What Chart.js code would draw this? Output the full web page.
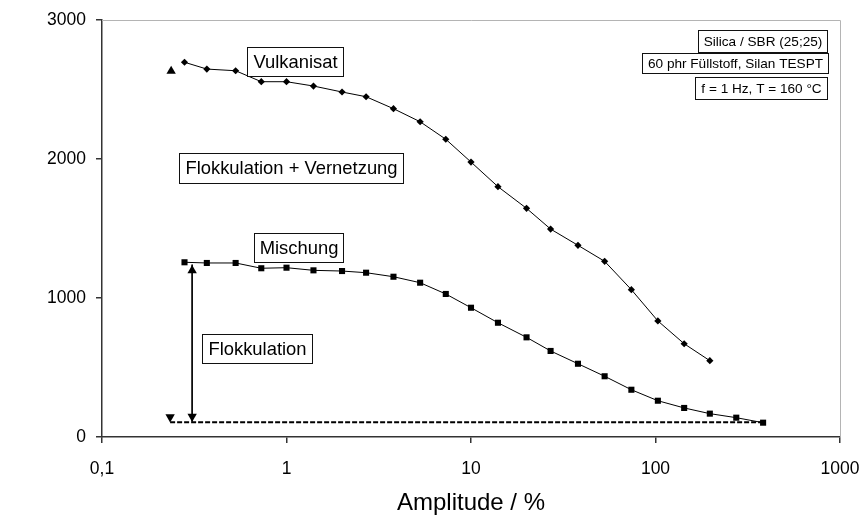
<!DOCTYPE html>
<html>
<head>
<meta charset="utf-8">
<title>Amplitude sweep</title>
<script src="https://cdn.jsdelivr.net/npm/chart.js@4.4.1/dist/chart.umd.min.js"></script>
<style>
  body { margin: 0; background: #fff; }
  #sweepChart { display: block; }
</style>
</head>
<body>
<canvas id="sweepChart" width="865" height="516"></canvas>
<script>
// Amplitude steps in % (log spaced)
var vulkAmp = [0.28, 0.37, 0.53, 0.73, 1.0, 1.4, 2.0, 2.7, 3.8, 5.3, 7.3, 10, 14, 20, 27, 38, 53, 74, 103, 143, 197];
var vulkG = [2696, 2647, 2635, 2556, 2556, 2525, 2482, 2448, 2362, 2268, 2142, 1978, 1801, 1645, 1496, 1379, 1264, 1060, 835, 671, 549];

var mischAmp = [0.28, 0.37, 0.53, 0.73, 1.0, 1.4, 2.0, 2.7, 3.8, 5.3, 7.3, 10, 14, 20, 27, 38, 53, 74, 103, 143, 197, 274, 383];
var mischG = [1257, 1252, 1252, 1214, 1218, 1199, 1194, 1182, 1153, 1110, 1029, 930, 822, 717, 619, 527, 437, 340, 261, 209, 168, 139, 103];

// start markers and the filler baseline
var startUpAmp = [0.237];
var startUpG = [2632];
var startDownAmp = [0.234];
var startDownG = [144];
var baseAmp = [0.234, 383];
var baseG = [106, 106];

// "Flokkulation" arrow
var arrowAmp = [0.308, 0.308];
var arrowG = [1240, 112];
var arrowHeadG = [1198, 147];

var xTicks = [0.1, 1, 10, 100, 1000];
var xTickLabels = ['0,1', '1', '10', '100', '1000'];

function pts(xs, ys) {
    return xs.map(function (x, i) { return { x: x, y: ys[i] }; });
}

// boxed labels, drawn on top of the plot
var boxPlugin = {
    id: 'boxes',
    afterDraw: function (chart) {
        var ctx = chart.ctx;
        var area = chart.chartArea;
        ctx.save();
        // light frame on top and right
        ctx.strokeStyle = '#b4b4b4';
        ctx.lineWidth = 1;
        ctx.beginPath();
        ctx.moveTo(area.left, area.top + 0.5);
        ctx.lineTo(area.right + 0.5, area.top + 0.5);
        ctx.lineTo(area.right + 0.5, area.bottom);
        ctx.stroke();

        var boxes = [
            { t: 'Vulkanisat', x: 247, y: 47, w: 96, h: 29, f: 18.4 },
            { t: 'Flokkulation + Vernetzung', x: 179, y: 153, w: 224, h: 30, f: 18.4 },
            { t: 'Mischung', x: 254, y: 233, w: 89, h: 29, f: 18.4 },
            { t: 'Flokkulation', x: 202, y: 334, w: 110, h: 29, f: 18.4 },
            { t: 'Silica / SBR (25;25)', x: 698, y: 30, w: 129, h: 22, f: 13.6 },
            { t: '60 phr Füllstoff, Silan TESPT', x: 642, y: 53, w: 186, h: 20, f: 13.6 },
            { t: 'f = 1 Hz, T = 160 °C', x: 695, y: 77, w: 132, h: 22, f: 13.6 }
        ];
        boxes.forEach(function (b) {
            ctx.fillStyle = '#fff';
            ctx.fillRect(b.x, b.y, b.w, b.h);
            ctx.strokeStyle = '#111';
            ctx.lineWidth = 1;
            ctx.strokeRect(b.x + 0.5, b.y + 0.5, b.w, b.h);
            ctx.fillStyle = '#000';
            ctx.font = b.f + 'px "Liberation Sans", Arial, sans-serif';
            ctx.textAlign = 'center';
            ctx.textBaseline = 'middle';
            ctx.fillText(b.t, b.x + b.w / 2 + 0.5, b.y + b.h / 2 + 1);
        });
        ctx.restore();
    }
};

var ctx = document.getElementById('sweepChart').getContext('2d');

var sweepChart = new Chart(ctx, {
    type: 'scatter',
    data: {
        datasets: [
            {
                label: 'Basis',
                data: pts(baseAmp, baseG),
                showLine: true,
                borderColor: '#000',
                borderWidth: 2,
                borderDash: [5, 2],
                pointRadius: 0
            },
            {
                label: 'Pfeil',
                data: pts(arrowAmp, arrowG),
                showLine: true,
                borderColor: '#000',
                borderWidth: 1,
                pointRadius: 0
            },
            {
                label: 'Pfeilspitzen',
                data: pts(arrowAmp, arrowHeadG),
                pointStyle: 'triangle',
                rotation: [0, 180],
                pointRadius: 5.4,
                backgroundColor: '#000',
                borderColor: '#000',
                borderWidth: 0
            },
            {
                label: 'Vulkanisat',
                data: pts(vulkAmp, vulkG),
                showLine: true,
                borderColor: '#000',
                borderWidth: 1,
                pointStyle: 'rectRot',
                pointRadius: 3.6,
                pointBackgroundColor: '#000',
                pointBorderColor: '#000',
                pointBorderWidth: 0
            },
            {
                label: 'Mischung',
                data: pts(mischAmp, mischG),
                showLine: true,
                borderColor: '#000',
                borderWidth: 1,
                pointStyle: 'rect',
                pointRadius: 4.3,
                pointBackgroundColor: '#000',
                pointBorderColor: '#000',
                pointBorderWidth: 0
            },
            {
                label: 'Start oben',
                data: pts(startUpAmp, startUpG),
                pointStyle: 'triangle',
                pointRadius: 5.4,
                backgroundColor: '#000',
                borderColor: '#000',
                borderWidth: 0
            },
            {
                label: 'Start unten',
                data: pts(startDownAmp, startDownG),
                pointStyle: 'triangle',
                rotation: 180,
                pointRadius: 5.4,
                backgroundColor: '#000',
                borderColor: '#000',
                borderWidth: 0
            }
        ]
    },
    options: {
        responsive: false,
        animation: false,
        layout: { padding: { left: 0, right: 25, top: 20, bottom: 0 } },
        plugins: {
            legend: { display: false },
            tooltip: { enabled: false }
        },
        scales: {
            x: {
                type: 'logarithmic',
                min: 0.1,
                max: 1000,
                afterBuildTicks: function (scale) {
                    scale.ticks = xTicks.map(function (v) { return { value: v }; });
                },
                afterFit: function (scale) {
                    scale.height = 79;
                    scale.paddingLeft = 0;
                    scale.paddingRight = 0;
                },
                ticks: {
                    autoSkip: false,
                    maxRotation: 0,
                    padding: 16,
                    color: '#000',
                    font: { family: '"Liberation Sans", Arial, sans-serif', size: 17.5 },
                    callback: function (value) {
                        var i = xTicks.indexOf(value);
                        return i >= 0 ? xTickLabels[i] : '';
                    }
                },
                grid: { drawOnChartArea: false, drawTicks: true, tickLength: 6, color: '#333', lineWidth: 1.5 },
                border: { display: true, color: '#333', width: 1.5 },
                title: {
                    display: true,
                    text: 'Amplitude / %',
                    color: '#000',
                    font: { family: '"Liberation Sans", Arial, sans-serif', size: 24 },
                    padding: { top: 0, bottom: -2 }
                }
            },
            y: {
                min: 0,
                max: 3000,
                afterFit: function (scale) {
                    scale.width = 102;
                    scale.paddingTop = 0;
                    scale.paddingBottom = 0;
                },
                ticks: {
                    stepSize: 1000,
                    padding: 10,
                    color: '#000',
                    font: { family: '"Liberation Sans", Arial, sans-serif', size: 17.5 },
                    callback: function (value) { return String(value); }
                },
                grid: { drawOnChartArea: false, drawTicks: true, tickLength: 6, color: '#333', lineWidth: 1.5 },
                border: { display: true, color: '#333', width: 1.5 }
            }
        }
    },
    plugins: [boxPlugin]
});
</script>
</body>
</html>
